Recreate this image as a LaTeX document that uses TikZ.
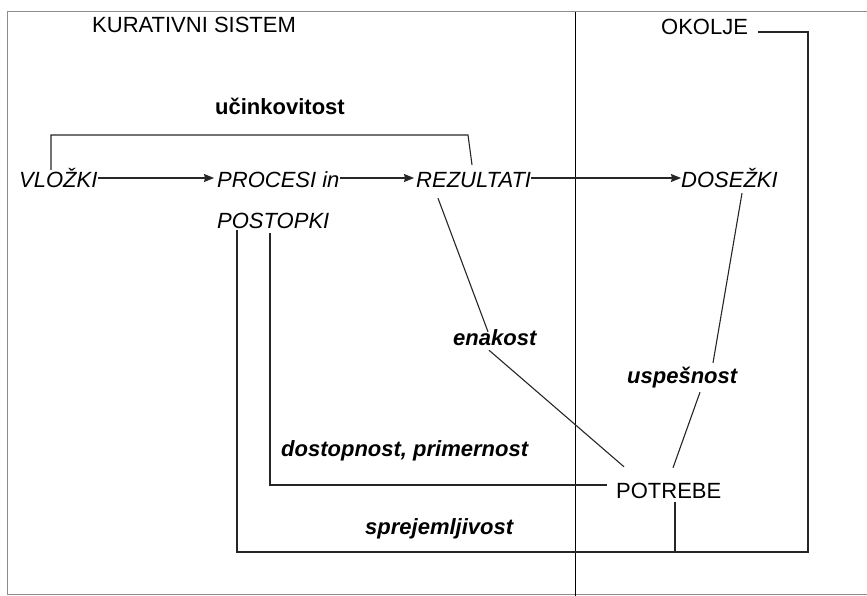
\documentclass[tikz,border=0pt]{standalone}
\usepackage{fontspec}
\setmainfont{Liberation Sans}
\usetikzlibrary{arrows.meta}
\begin{document}
\begin{tikzpicture}[>={Stealth[length=10pt,width=8pt,inset=1pt]}, x=1pt, y=-1pt]
\tikzstyle{every node}=[inner sep=0pt, text height=16pt, text depth=0pt, anchor=base west, font=\fontsize{22}{26}\selectfont]
\tikzstyle{stage}=[font=\fontsize{22}{26}\selectfont\itshape]
\tikzstyle{quality}=[font=\fontsize{22}{26}\selectfont\bfseries\itshape]
\tikzstyle{link}=[line width=1.1pt, draw=black!85]
\tikzstyle{frame}=[line width=1pt, draw=black!45]
\useasboundingbox (0,0) rectangle (867,596);
% frame and divider
\draw[frame] (867,12) -- (7.5,12) -- (7.5,594) -- (867,594);
\draw[line width=1pt] (575,12) -- (575,596);
% titles
\node (kurativni) at (92,33) {KURATIVNI SISTEM};
\node (okolje) at (661,35) {OKOLJE};
% stages
\node[stage] (vlozki) at (19,188) {VLOŽKI};
\node[stage] (procesi) at (217,188) {PROCESI in};
\node[stage] (postopki) at (217,228) {POSTOPKI};
\node[stage] (rezultati) at (416,188) {REZULTATI};
\node[stage] (dosezki) at (681,188) {DOSEŽKI};
\node (potrebe) at (616,498) {POTREBE};
% qualities
\node[font=\fontsize{22}{26}\selectfont\bfseries] (ucinkovitost) at (215,115) {učinkovitost};
\node[quality] (enakost) at (453,345) {enakost};
\node[quality] (uspesnost) at (627,383) {uspešnost};
\node[quality] (dostopnost) at (281,456) {dostopnost, primernost};
\node[quality] (sprejemljivost) at (365,534) {sprejemljivost};
\coordinate (bend) at (468,135);
\coordinate (corner) at (808,552);
\coordinate (foot) at ([xshift=59pt,yshift=-4pt]potrebe.south west);
% arrows
\draw[->,link] ([yshift=2pt]vlozki.east) -- ([xshift=-3pt,yshift=2pt]procesi.west);
\draw[->,link] ([yshift=2pt]procesi.east) -- ([xshift=-2pt,yshift=2pt]rezultati.west);
\draw[->,link] ([yshift=2pt]rezultati.east) -- ([yshift=2pt]dosezki.west);
\draw[link] ([xshift=32pt,yshift=2pt]vlozki.north west) |- (bend) -- ([xshift=56pt,yshift=7pt]rezultati.north west);
\draw[link] ([xshift=22pt,yshift=-10pt]rezultati.south west) -- ([xshift=35pt,yshift=-3pt]enakost.north west);
\draw[link] ([xshift=36pt,yshift=-5pt]enakost.south west) -- ([xshift=8pt,yshift=15pt]potrebe.north west);
\draw[link] ([xshift=61pt,yshift=-5pt]dosezki.south west) -- ([xshift=86pt,yshift=4pt]uspesnost.north west);
\draw[link] ([xshift=73pt,yshift=-9pt]uspesnost.south west) -- ([xshift=57pt,yshift=14pt]potrebe.north west);
\draw[link] ([xshift=53pt,yshift=-5pt]postopki.south west) |- ([xshift=-9pt,yshift=5pt]potrebe.west);
\draw[link] ([xshift=20pt,yshift=-2pt]postopki.south west) |- (corner) |- ([xshift=10pt,yshift=-5pt]okolje.east);
\draw[link] (foot) -- (foot |- corner);
\end{tikzpicture}
\end{document}
